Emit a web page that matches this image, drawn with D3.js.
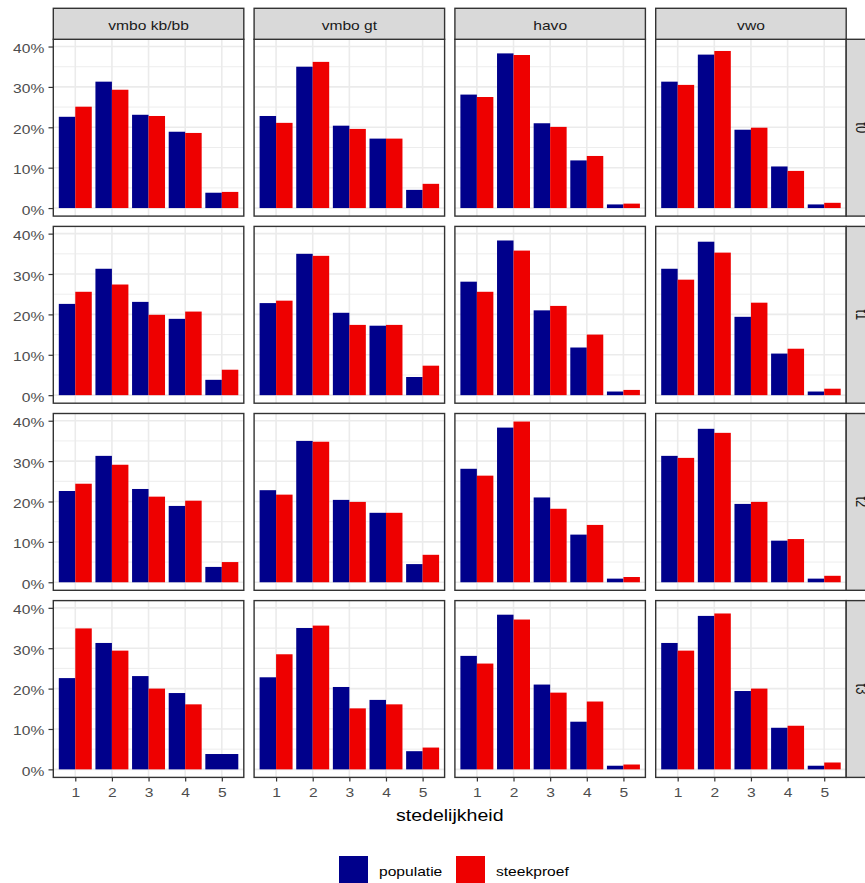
<!DOCTYPE html>
<html><head><meta charset="utf-8">
<script src="https://cdn.jsdelivr.net/npm/d3@7"></script>
<style>
body{margin:0;background:#fff}
text{font-family:"Liberation Sans",Arial,Helvetica,sans-serif}
</style>
</head><body>
<svg id="chart" width="865" height="883"></svg>
<script>
// ---------- data ----------
const schoolTypes = ["vmbo kb/bb", "vmbo gt", "havo", "vwo"];
const waves = ["t0", "t1", "t2", "t3"];
const categories = [1, 2, 3, 4, 5];
const seriesNames = ["populatie", "steekproef"];
const yTickValues = [0, 10, 20, 30, 40];
const xTitle = "stedelijkheid";

// populatie (percent), same in every wave
const pop_kbbb = [22.6, 31.3, 23.1, 18.9, 3.8];
const pop_gt   = [22.8, 35.0, 20.4, 17.2, 4.5];
const pop_havo = [28.1, 38.3, 21.0, 11.8, 0.9];
const pop_vwo  = [31.3, 38.0, 19.4, 10.3, 0.9];

// steekproef (percent) per wave
const t0_kbbb = [25.1, 29.3, 22.8, 18.6, 4.0];
const t0_gt   = [21.1, 36.2, 19.6, 17.2, 6.0];
const t0_havo = [27.5, 37.9, 20.1, 12.9, 1.1];
const t0_vwo  = [30.5, 38.9, 19.9, 9.2, 1.3];

const t1_kbbb = [25.6, 27.4, 19.9, 20.7, 6.3];
const t1_gt   = [23.4, 34.5, 17.4, 17.4, 7.3];
const t1_havo = [25.6, 35.8, 22.1, 15.0, 1.3];
const t1_vwo  = [28.6, 35.3, 22.9, 11.5, 1.6];

const t2_kbbb = [24.4, 29.1, 21.2, 20.2, 5.0];
const t2_gt   = [21.7, 34.8, 19.9, 17.2, 6.8];
const t2_havo = [26.4, 39.8, 18.2, 14.2, 1.3];
const t2_vwo  = [30.8, 37.0, 19.9, 10.7, 1.6];

const t3_kbbb = [34.9, 29.4, 20.0, 16.1, null];
const t3_gt   = [28.5, 35.6, 15.1, 16.1, 5.4];
const t3_havo = [26.2, 37.1, 19.0, 16.8, 1.2];
const t3_vwo  = [29.4, 38.6, 20.0, 10.8, 1.7];

const popByType = [pop_kbbb, pop_gt, pop_havo, pop_vwo];
const sampleByWave = [
  [t0_kbbb, t0_gt, t0_havo, t0_vwo],
  [t1_kbbb, t1_gt, t1_havo, t1_vwo],
  [t2_kbbb, t2_gt, t2_havo, t2_vwo],
  [t3_kbbb, t3_gt, t3_havo, t3_vwo]
];

// ---------- layout / style ----------
const SX = 1.2; // horizontal text stretch of the reference
const panelX0 = 53.3, panelW = 190.5, gapX = 10.3;
const panelY0 = 39.3, panelH = 176.8, gapY = 10.3;
const stripTop = 8.3, stripH = 31;
const colors = {populatie: "#00008B", steekproef: "#EE0000"};
const gridCol = "#EBEBEB", borderCol = "#333333";

const svg = d3.select("#chart");
svg.append("rect").attr("width", 865).attr("height", 883).attr("fill", "#fff");

const allVals = popByType.flat().concat(sampleByWave.flat(2)).filter(v => v != null);
const M = d3.max(allVals);
const y = d3.scaleLinear().domain([-0.05 * M, 1.05 * M]).range([panelH, 0]);
const x = d3.scaleLinear().domain([0.4, 5.6]).range([0, panelW]);
const minorY = [5, 15, 25, 35];

waves.forEach((w, r) => {
  schoolTypes.forEach((st, c) => {
    const px = panelX0 + c * (panelW + gapX);
    const py = panelY0 + r * (panelH + gapY);
    const g = svg.append("g").attr("transform", `translate(${px},${py})`);
    g.append("rect").attr("width", panelW).attr("height", panelH).attr("fill", "#fff");
    // grid
    g.selectAll(".minor").data(minorY).join("line")
      .attr("x1", 0).attr("x2", panelW)
      .attr("y1", d => y(d)).attr("y2", d => y(d))
      .attr("stroke", gridCol).attr("stroke-width", 0.9);
    g.selectAll(".majy").data(yTickValues).join("line")
      .attr("x1", 0).attr("x2", panelW)
      .attr("y1", d => y(d)).attr("y2", d => y(d))
      .attr("stroke", gridCol).attr("stroke-width", 1.6);
    g.selectAll(".majx").data(categories).join("line")
      .attr("y1", 0).attr("y2", panelH)
      .attr("x1", d => x(d)).attr("x2", d => x(d))
      .attr("stroke", gridCol).attr("stroke-width", 1.6);
    // bars
    const pop = popByType[c], smp = sampleByWave[r][c];
    const bars = [];
    categories.forEach((k, i) => {
      if (smp[i] == null) {
        bars.push({s: "populatie", x0: k - 0.45, x1: k + 0.45, v: pop[i]});
      } else {
        bars.push({s: "populatie", x0: k - 0.45, x1: k, v: pop[i]});
        bars.push({s: "steekproef", x0: k, x1: k + 0.45, v: smp[i]});
      }
    });
    g.selectAll(".bar").data(bars).join("rect")
      .attr("x", d => x(d.x0)).attr("width", d => x(d.x1) - x(d.x0))
      .attr("y", d => y(d.v)).attr("height", d => y(0) - y(d.v))
      .attr("fill", d => colors[d.s]);
    // border
    g.append("rect").attr("width", panelW).attr("height", panelH)
      .attr("fill", "none").attr("stroke", borderCol).attr("stroke-width", 1.4);

    // left axis
    if (c === 0) {
      const ax = g.append("g").call(
        d3.axisLeft(y).tickValues(yTickValues).tickFormat(d => d + "%").tickSize(4.8));
      ax.select(".domain").remove();
      ax.selectAll("line").attr("stroke", borderCol).attr("stroke-width", 1.2);
      ax.selectAll("text").attr("x", 0).attr("dy", null)
        .attr("transform", `translate(-9,6) scale(${SX},1)`)
        .attr("fill", "#4D4D4D").style("font-size", "13px");
    }
    // bottom axis
    if (r === waves.length - 1) {
      const ax = g.append("g").attr("transform", `translate(0,${panelH})`).call(
        d3.axisBottom(x).tickValues(categories).tickFormat(d3.format("d")).tickSize(4.1));
      ax.select(".domain").remove();
      ax.selectAll("line").attr("stroke", borderCol).attr("stroke-width", 1.2);
      ax.selectAll("text").attr("y", 0).attr("dy", null)
        .attr("transform", `translate(0,19.9) scale(${SX},1)`)
        .attr("fill", "#4D4D4D").style("font-size", "13px");
    }
    // top strip
    if (r === 0) {
      svg.append("rect").attr("x", px).attr("y", stripTop).attr("width", panelW).attr("height", stripH)
        .attr("fill", "#D9D9D9").attr("stroke", borderCol).attr("stroke-width", 1.4);
      svg.append("text").text(st)
        .attr("transform", `translate(${px + panelW / 2},${stripTop + 22}) scale(${SX},1)`)
        .attr("text-anchor", "middle").attr("fill", "#1A1A1A").style("font-size", "13px");
    }
    // right strip
    if (c === schoolTypes.length - 1) {
      svg.append("rect").attr("x", px + panelW).attr("y", py).attr("width", 37).attr("height", panelH)
        .attr("fill", "#D9D9D9").attr("stroke", borderCol).attr("stroke-width", 1.4);
      svg.append("text").text(w)
        .attr("transform", `translate(855.5,${py + panelH / 2}) scale(${SX},1) rotate(90)`)
        .attr("text-anchor", "middle").attr("fill", "#1A1A1A").style("font-size", "13px");
    }
  });
});

// x title
const plotMid = panelX0 + (4 * panelW + 3 * gapX) / 2;
svg.append("text").text(xTitle)
  .attr("transform", `translate(${plotMid},820.5) scale(${SX},1)`)
  .attr("text-anchor", "middle").attr("fill", "#000").style("font-size", "16.3px");

// legend
const legendX = [339, 456];
const lg = svg.selectAll(".leg").data(seriesNames).join("g")
  .attr("transform", (d, i) => `translate(${legendX[i]},856)`);
lg.append("rect").attr("width", 29).attr("height", 27).attr("fill", d => colors[d]);
lg.append("text").text(d => d)
  .attr("transform", `translate(40,20) scale(${SX},1)`)
  .attr("fill", "#000").style("font-size", "13px");
</script>
</body></html>
